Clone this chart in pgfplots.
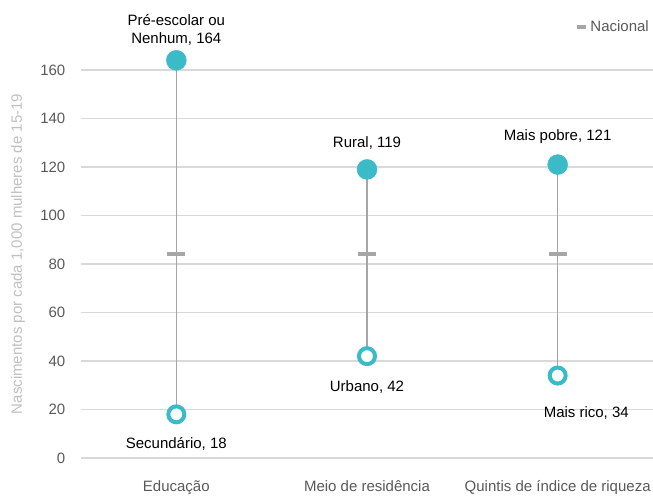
\documentclass[border=0pt]{standalone}
\usepackage{pgfplots}
\pgfplotsset{compat=1.18}
\usepackage{fontspec}
\setmainfont{Liberation Sans}
\definecolor{teal1}{HTML}{3BBAC7}
\definecolor{lgray}{HTML}{A6A6A6}
\definecolor{gridc}{HTML}{D9D9D9}
\definecolor{tickc}{HTML}{595959}
\definecolor{ylab}{HTML}{BFBFBF}
\newcommand{\ff}{\fontsize{15bp}{18bp}\selectfont}
\begin{document}
\begin{tikzpicture}[font=\ff]
\useasboundingbox (-81bp,-39bp) rectangle (572bp,458bp);
\begin{axis}[
  at={(0,0)}, anchor=south west,
  scale only axis, width=572bp, height=388bp,
  xmin=-0.5, xmax=2.5, ymin=0, ymax=160,
  axis line style={draw=none},
  major tick length=0pt,
  xtick={0,1,2},
  xticklabels={Educação, Meio de residência, Quintis de índice de riqueza},
  ytick={0,20,...,160},
  ymajorgrids, grid style={gridc, line width=1.5bp},
  tick label style={font=\ff, text=tickc},
  /pgf/number format/assume math mode=true,
  yticklabel style={inner sep=0pt, xshift=-15.5bp},
  xticklabel style={yshift=-19bp},
  ylabel={Nascimentos por cada 1,000 mulheres de 15-19},
  ylabel style={at={(axis description cs:-0.1102,0.526)}, anchor=center, text=ylab, font=\ff},
  clip=false,
  legend style={at={(rel axis cs:1,1)}, anchor=east, yshift=43bp, xshift=-2bp, draw=none, fill=none, inner sep=0pt, font=\ff, text=tickc},
  legend cell align=left,
]
\addplot[only marks, mark=*, mark size=10bp, color=teal1, forget plot] coordinates {(0,164) (1,119) (2,121)};
\addplot[only marks, mark=*, mark size=8bp, mark options={line width=4bp, draw=teal1, fill=white}, forget plot] coordinates {(0,18) (1,42) (2,34)};
\addplot[lgray, line width=1.2bp, forget plot] coordinates {(0,164) (0,18)};
\addplot[lgray, line width=1.2bp, forget plot] coordinates {(1,119) (1,42)};
\addplot[lgray, line width=1.2bp, forget plot] coordinates {(2,121) (2,34)};
\addplot[only marks, mark=-, mark size=9bp, mark options={line width=4bp, lgray},
  legend image code/.code={\draw[lgray, line width=4bp] (0bp,0bp) -- (9bp,0bp);}] coordinates {(0,84) (1,84) (2,84)};
\addlegendentry{Nacional}
\node[align=center] at (axis cs:0,176.5) {Pré-escolar ou\\Nenhum, 164};
\node at (axis cs:1,129.9) {Rural, 119};
\node at (axis cs:2,132.4) {Mais pobre, 121};
\node at (axis cs:0,5.8) {Secundário, 18};
\node at (axis cs:1,29.3) {Urbano, 42};
\node at (axis cs:2.15,18.6) {Mais rico, 34};
\end{axis}
\end{tikzpicture}
\end{document}
